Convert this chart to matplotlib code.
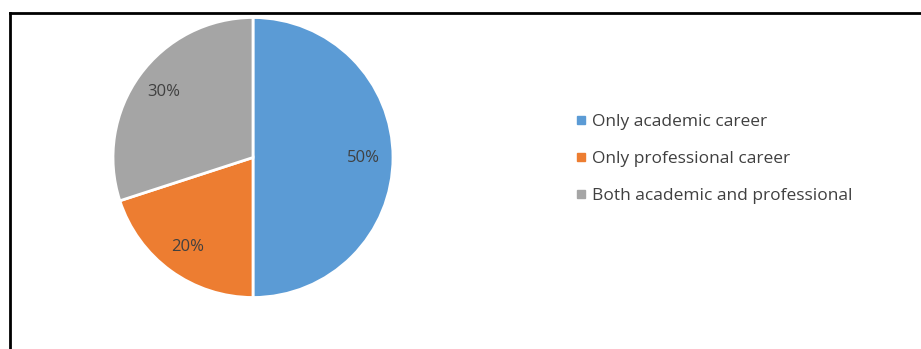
"""Pie chart: career path distribution."""

import matplotlib.pyplot as plt
from matplotlib.lines import Line2D

categorias = ["Only academic career", "Only professional career", "Both academic and professional"]
percentuais = [50, 20, 30]
cores = ["#5B9BD5", "#ED7D31", "#A5A5A5"]


def main() -> None:
    plt.rcParams["font.family"] = ["Open Sans", "DejaVu Sans"]

    fig = plt.figure(figsize=(9.21, 3.49), dpi=100)

    # Pie axes placed so the circle sits at the left of the frame.
    cx, cy, r = 253 / 921, 1 - 157.5 / 349, 140
    w, h = 2 * r / 921, 2 * r / 349
    ax = fig.add_axes([cx - w / 2, cy - h / 2, w, h])
    ax.pie(
        percentuais,
        colors=cores,
        startangle=90,
        counterclock=False,
        autopct="%d%%",
        pctdistance=0.79,
        wedgeprops=dict(edgecolor="white", linewidth=2),
        textprops=dict(color="#404040", fontsize=12),
    )
    ax.set_xlim(-1, 1)
    ax.set_ylim(-1, 1)
    ax.set_aspect("equal")

    # Legend with small square markers.
    handles = [
        Line2D([], [], marker="s", linestyle="none", markersize=6, color=c)
        for c in cores
    ]
    fig.legend(
        handles,
        categorias,
        loc="center left",
        bbox_to_anchor=(559 / 921, 1 - 159 / 349),
        frameon=False,
        fontsize=12.5,
        labelcolor="#404040",
        handlelength=0.7,
        handletextpad=0.3,
        labelspacing=1.2,
    )

    # Black frame (top and left edges visible in the crop).
    y_top = 1 - 13 / 349
    x_left = 10 / 921
    fig.add_artist(Line2D([x_left, 1], [y_top, y_top], color="black", linewidth=2))
    fig.add_artist(Line2D([x_left, x_left], [0, y_top], color="black", linewidth=2))

    fig.savefig("out.png", dpi=100, facecolor="white")
    plt.close(fig)


if __name__ == "__main__":
    main()
